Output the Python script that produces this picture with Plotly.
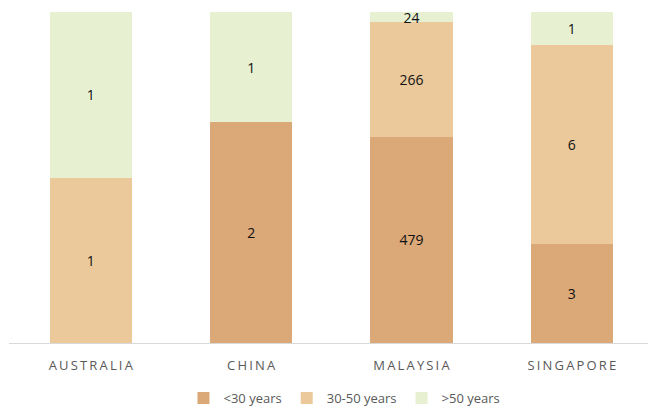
import plotly.graph_objects as go

countries = ["AUSTRALIA", "CHINA", "MALAYSIA", "SINGAPORE"]
under_30 = [0, 2, 479, 3]
age_30_50 = [1, 0, 266, 6]
over_50 = [1, 1, 24, 1]

series = [
    ("<30 years", under_30, "#DBA878"),
    ("30-50 years", age_30_50, "#ECC99B"),
    (">50 years", over_50, "#E7F0D0"),
]

# spaced-out category labels
tick_text = ["\u2009".join(c) for c in countries]

fig = go.Figure()
for name, vals, color in series:
    fig.add_trace(go.Bar(
        x=countries,
        y=vals,
        name=name,
        marker=dict(color=color, line=dict(width=0)),
        text=[str(v) if v else "" for v in vals],
        textposition="inside",
        insidetextanchor="middle",
        textangle=0,
        textfont=dict(family="Open Sans", size=14, color="#111111"),
        hoverinfo="x+y+name",
    ))

fig.update_layout(
    barmode="stack",
    barnorm="percent",
    bargap=0.4875,
    width=648,
    height=408,
    margin=dict(l=9, r=0, t=12, b=65, autoexpand=False),
    paper_bgcolor="white",
    plot_bgcolor="white",
    font=dict(family="Open Sans", color="#595959"),
    uniformtext=dict(minsize=8, mode="show"),
    xaxis=dict(
        tickmode="array",
        tickvals=countries,
        ticktext=tick_text,
        tickfont=dict(size=13, color="#595959"),
        range=[-0.51, 3.475],
        showline=True,
        linecolor="#D9D9D9",
        linewidth=1,
        ticks="outside",
        ticklen=10,
        tickcolor="rgba(0,0,0,0)",
        showgrid=False,
        automargin=False,
    ),
    yaxis=dict(
        range=[0, 100],
        visible=False,
        showgrid=False,
    ),
    legend=dict(
        orientation="h",
        x=0.525,
        xanchor="center",
        y=-0.166,
        yanchor="middle",
        font=dict(size=13, color="#595959"),
        itemwidth=30,
        traceorder="normal",
    ),
)

fig.write_html("out.html")
